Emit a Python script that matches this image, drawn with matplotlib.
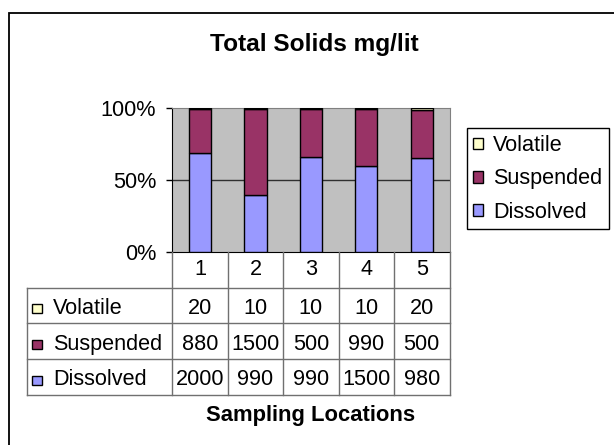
import numpy as np
import matplotlib
matplotlib.use("Agg")
from matplotlib import pyplot as plt
from matplotlib.patches import Rectangle, Patch

# 데이터
locations = ['1', '2', '3', '4', '5']
series_names = ['Dissolved', 'Suspended', 'Volatile']
dissolved = [2000, 990, 990, 1500, 980]
suspended = [880, 1500, 500, 990, 500]
volatile = [20, 10, 10, 10, 20]
series_colors = ['#9999FF', '#993366', '#FFFFCC']

plt.rcParams['font.family'] = ['Liberation Sans', 'DejaVu Sans']

W, H = 614, 445
FS = 15.6


def fx(px):
    return px / W


def fy(py):
    return 1 - py / H


fig = plt.figure(figsize=(W / 100, H / 100), dpi=100)

# 외곽 테두리
fig.patches.append(Rectangle((fx(9), -0.2), 1.5, fy(13) + 0.2, transform=fig.transFigure,
                             fill=False, edgecolor='black', linewidth=1.3))

# 100% 누적 막대
plot_l, plot_r, plot_t, plot_b = 172.3, 449.5, 108.3, 251.7
ax = fig.add_axes([fx(plot_l), fy(plot_b), fx(plot_r - plot_l), (plot_b - plot_t) / H])
ax.set_facecolor('#C0C0C0')

values = np.array([dissolved, suspended, volatile], dtype=float)
totals = values.sum(axis=0)
x = np.arange(len(locations))
bottom = np.zeros(len(locations))
for name, vals, color in zip(series_names, values, series_colors):
    pct = vals / totals
    ax.bar(x, pct, width=0.4, bottom=bottom, color=color, edgecolor='black',
           linewidth=1, zorder=3, label=name)
    bottom = bottom + pct

ax.axhline(0.5, color='#303030', linewidth=1, zorder=1)
ax.set_xlim(-0.5, len(locations) - 0.5)
ax.set_ylim(0, 1)
ax.set_yticks([0, 0.5, 1])
ax.set_yticklabels(['0%', '50%', '100%'])
ax.set_xticks([])
ax.tick_params(axis='y', direction='out', length=4.3, width=1, pad=7.4, labelsize=FS)
ax.spines['left'].set_color('black')
ax.spines['bottom'].set_color('black')
ax.spines['top'].set_color('#808080')
ax.spines['right'].set_color('#808080')

# 데이터 테이블
tab_l, tab_b = 26.6, 395
tax = fig.add_axes([fx(tab_l), fy(tab_b), fx(plot_r - tab_l), (tab_b - plot_b) / H])
unit = (plot_r - plot_l) / len(locations)
label_w = (plot_l - tab_l) / unit
x0 = -0.5 - label_w
tax.set_xlim(x0, len(locations) - 0.5)
tax.set_ylim(0, 4)
tax.axis('off')

grid_c = '#707070'
for xv in np.arange(-0.5, len(locations), 1.0):
    tax.plot([xv, xv], [0, 4], color=grid_c, linewidth=1, clip_on=False)
tax.plot([x0, x0], [0, 3], color=grid_c, linewidth=1, clip_on=False)
for yv in [0, 1, 2, 3]:
    tax.plot([x0, len(locations) - 0.5], [yv, yv], color=grid_c, linewidth=1, clip_on=False)

for i, loc in enumerate(locations):
    tax.text(i, 3.5, loc, ha='center', va='center', fontsize=FS)

row_y = {'Volatile': 2.5, 'Suspended': 1.5, 'Dissolved': 0.5}
sq_w = 10 / unit
sq_h = 9.5 / ((tab_b - plot_b) / 4)
for name, vals, color in zip(series_names, values, series_colors):
    yc = row_y[name]
    tax.add_patch(Rectangle((x0 + 5.7 / unit, yc - 0.09 - sq_h / 2), sq_w, sq_h,
                            facecolor=color, edgecolor='black', linewidth=1))
    tax.text(x0 + 26.7 / unit, yc - 0.08, name, ha='left', va='center', fontsize=FS)
    for i, v in enumerate(vals):
        tax.text(i, yc - 0.08, '%d' % v, ha='center', va='center', fontsize=FS)

# 범례
handles = [Patch(facecolor=c, edgecolor='black', linewidth=1, label=n)
           for n, c in zip(series_names, series_colors)][::-1]
leg = fig.legend(handles=handles, loc='upper left', bbox_to_anchor=(fx(466.5), fy(128.3)),
                 fontsize=FS, frameon=True, fancybox=False, framealpha=1,
                 edgecolor='black', borderaxespad=0, borderpad=0.32,
                 labelspacing=0.56, handlelength=0.46, handleheight=0.46,
                 handletextpad=0.45)
leg.get_frame().set_linewidth(1)

# 제목
fig.text(fx(314.8), fy(45), 'Total Solids mg/lit', ha='center', va='center',
         fontsize=17.6, fontweight='bold')
fig.text(fx(310.5), fy(416), 'Sampling Locations', ha='center', va='center',
         fontsize=15.8, fontweight='bold')

fig.savefig('out.png', dpi=100, facecolor='white')
